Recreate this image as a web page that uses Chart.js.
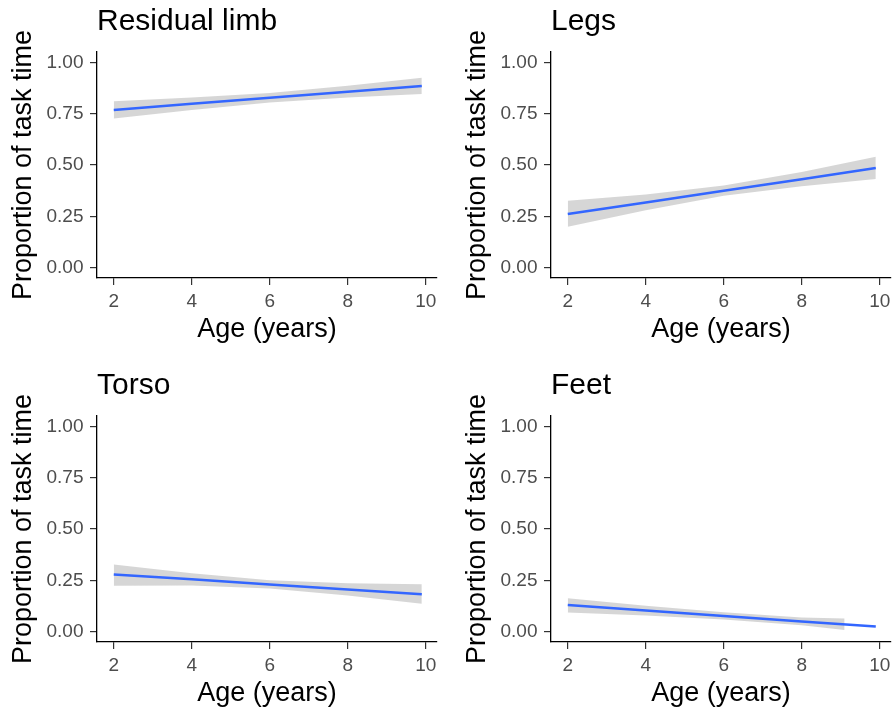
<!DOCTYPE html>
<html>
<head>
<meta charset="utf-8">
<script src="https://cdn.jsdelivr.net/npm/chart.js@4.4.1/dist/chart.umd.min.js"></script>
<style>
  body { margin: 0; background: #fff; width: 893px; height: 710px; overflow: hidden; position: relative; }
  canvas { position: absolute; }
</style>
</head>
<body>
<canvas id="limb" width="446" height="355" style="left:0;top:0"></canvas>
<canvas id="legs" width="446" height="355" style="left:454px;top:0"></canvas>
<canvas id="torso" width="446" height="355" style="left:0;top:364px"></canvas>
<canvas id="feet" width="446" height="355" style="left:454px;top:364px"></canvas>
<script>
const ages = [2, 4, 6, 8, 9.9];
const feetBandAges = [2, 4, 6, 8, 9.1]; // band stops where it hits 0

const xTicks = [2, 4, 6, 8, 10];
const yTicks = [0, 0.25, 0.5, 0.75, 1];

const limbFit   = [0.768, 0.798, 0.827, 0.857, 0.885];
const limbLower = [0.726, 0.768, 0.804, 0.828, 0.845];
const limbUpper = [0.810, 0.828, 0.850, 0.886, 0.925];

const legsFit   = [0.262, 0.318, 0.375, 0.431, 0.485];
const legsLower = [0.200, 0.280, 0.350, 0.396, 0.432];
const legsUpper = [0.326, 0.356, 0.400, 0.466, 0.540];

const torsoFit   = [0.279, 0.255, 0.230, 0.206, 0.183];
const torsoLower = [0.224, 0.225, 0.210, 0.176, 0.136];
const torsoUpper = [0.327, 0.285, 0.250, 0.236, 0.231];

const feetFit   = [0.130, 0.103, 0.077, 0.050, 0.025];
const feetLower = [0.094, 0.079, 0.059, 0.031, 0.008];
const feetUpper = [0.163, 0.127, 0.095, 0.069, 0.064];

const FONT = "'Liberation Sans', Arial, sans-serif";

function pts(xs, ys) {
  return xs.map((x, i) => ({ x, y: ys[i] }));
}

function makePanel(id, title, fit, lower, upper, bandX) {
  const ctx = document.getElementById(id).getContext("2d");
  new Chart(ctx, {
    type: "line",
    data: {
      datasets: [
        { data: pts(bandX, lower), borderWidth: 0, borderColor: "transparent", pointRadius: 0, fill: false, order: 2 },
        { data: pts(bandX, upper), borderWidth: 0, borderColor: "transparent", pointRadius: 0,
          fill: "-1", backgroundColor: "rgba(153,153,153,0.4)", order: 1 },
        // fitted line on top of the band
        { data: pts(ages, fit), borderColor: "#3366ff", borderWidth: 2.5, pointRadius: 0, fill: false, tension: 0, order: 0 }
      ]
    },
    options: {
      responsive: false,
      animation: false,
      events: [],
      layout: { padding: { right: 9 } },
      plugins: {
        legend: { display: false },
        tooltip: { enabled: false },
        title: {
          display: true, text: title, align: "start", fullSize: false, color: "#000",
          font: { family: FONT, size: 30, weight: "normal", lineHeight: 1.2 },
          padding: { top: 4, bottom: 12 }
        }
      },
      scales: {
        x: {
          type: "linear", min: 1.57, max: 10.29,
          afterBuildTicks: s => { s.ticks = xTicks.map(v => ({ value: v })); },
          afterFit: s => { s.height = 77; s.paddingLeft = 0; s.paddingRight = 0; },
          grid: { drawOnChartArea: false, tickLength: 7, color: "#333", lineWidth: 1.2 },
          border: { color: "#000", width: 1.3 },
          ticks: { color: "#4d4d4d", font: { family: FONT, size: 19 }, padding: 5, maxRotation: 0, autoSkip: false },
          title: {
            display: true, text: "Age (years)", color: "#000",
            font: { family: FONT, size: 27, lineHeight: 1.2 }, padding: { top: 0, bottom: 8.8 }
          }
        },
        y: {
          type: "linear", min: -0.05, max: 1.05,
          afterBuildTicks: s => { s.ticks = yTicks.map(v => ({ value: v })); },
          afterFit: s => { s.width = 97; s.paddingTop = 0; s.paddingBottom = 0; },
          grid: { drawOnChartArea: false, tickLength: 7, color: "#333", lineWidth: 1.2 },
          border: { color: "#000", width: 1.3 },
          ticks: { color: "#4d4d4d", font: { family: FONT, size: 19 }, padding: 6.5, callback: v => v.toFixed(2) },
          title: {
            display: true, text: "Proportion of task time", color: "#000",
            font: { family: FONT, size: 27, lineHeight: 1.2 }, padding: { top: 7.8, bottom: 0 }
          }
        }
      }
    }
  });
}

makePanel("limb", "Residual limb", limbFit, limbLower, limbUpper, ages);
makePanel("legs", "Legs", legsFit, legsLower, legsUpper, ages);
makePanel("torso", "Torso", torsoFit, torsoLower, torsoUpper, ages);
makePanel("feet", "Feet", feetFit, feetLower, feetUpper, feetBandAges);
</script>
</body>
</html>
